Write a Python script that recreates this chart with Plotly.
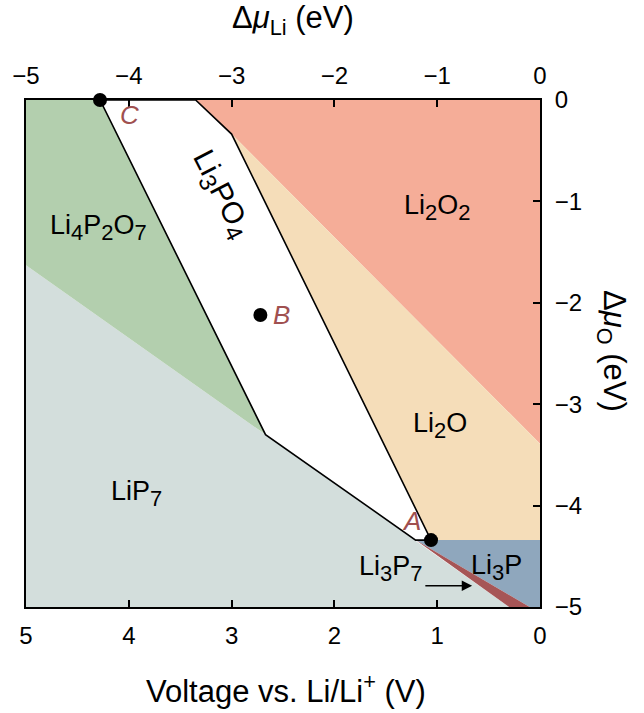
import plotly.graph_objects as go

# ---- data (Δμ_Li, Δμ_O) ----
lip7_x = [-5.0, -0.30, -5.0]
lip7_y = [-1.63, -5.0, -5.0]
li4p2o7_x = [-5.0, -4.28, -2.67, -5.0]
li4p2o7_y = [0.0, 0.0, -3.30, -1.63]
li2o2_x = [-3.35, 0.0, 0.0, -3.0]
li2o2_y = [0.0, 0.0, -3.39, -0.336]
li2o_x = [-3.0, 0.0, 0.0, -1.06]
li2o_y = [-0.336, -3.39, -4.34, -4.34]
li3p_x = [-1.21, 0.0, 0.0, -0.10]
li3p_y = [-4.34, -4.34, -5.0, -5.0]
li3p7_x = [-1.21, -0.10, -0.30]
li3p7_y = [-4.34, -5.0, -5.0]
li3po4_x = [-4.28, -3.35, -3.0, -1.06, -1.21, -2.67, -4.28]
li3po4_y = [0.0, 0.0, -0.336, -4.34, -4.34, -3.30, 0.0]

pt_names = ["A", "B", "C"]
pt_x = [-1.06, -2.72, -4.28]
pt_y = [-4.34, -2.12, 0.0]

mu_li_ticks = [-5, -4, -3, -2, -1, 0]
volt_labels = ["5", "4", "3", "2", "1", "0"]
mu_li_labels = ["\u22125", "\u22124", "\u22123", "\u22122", "\u22121", "0"]
mu_o_ticks = [0, -1, -2, -3, -4, -5]
mu_o_labels = ["0", "\u22121", "\u22122", "\u22123", "\u22124", "\u22125"]

FONT = "Liberation Sans, Arial, Helvetica, sans-serif"

fig = go.Figure()

def region(xs, ys, color, line=None):
    fig.add_trace(go.Scatter(
        x=xs, y=ys, fill="toself", fillcolor=color, mode="lines",
        line=dict(width=0, color=color) if line is None else line,
        hoverinfo="skip", showlegend=False))

region(lip7_x, lip7_y, "#d3dedc")
region(li4p2o7_x, li4p2o7_y, "#b3cfae")
region(li2o2_x, li2o2_y, "#f5ad98")
region(li2o_x, li2o_y, "#f5ddb9")
region(li3p_x, li3p_y, "#8fa7bd")
region(li3p7_x, li3p7_y, "#a65556")
region(li3po4_x, li3po4_y, "#ffffff", line=dict(width=1.6, color="black"))

fig.add_trace(go.Scatter(x=pt_x, y=pt_y, mode="markers",
                         marker=dict(size=14, color="black"),
                         cliponaxis=False, hoverinfo="skip", showlegend=False))
# invisible trace to activate top axis
fig.add_trace(go.Scatter(x=[-5, 0], y=[0, 0], xaxis="x2", mode="markers",
                         marker=dict(opacity=0), hoverinfo="skip", showlegend=False))

def s(n, size=22):
    return "<sub><span style='font-size:%dpx'>%s</span></sub>" % (size, n)

ann = []
def label(x, y, text, size=27, angle=0, color="black"):
    ann.append(dict(x=x, y=y, xref="x", yref="y", text=text, showarrow=False,
                    textangle=angle, font=dict(family=FONT, size=size, color=color)))

label(-1.0, -1.06, "Li" + s(2) + "O" + s(2))
label(-4.29, -1.26, "Li" + s(4) + "P" + s(2) + "O" + s(7))
label(-3.11, -0.93, "Li" + s(3, 24) + "PO" + s(4, 24), size=30, angle=63)
label(-0.97, -3.21, "Li" + s(2) + "O")
label(-3.93, -3.88, "LiP" + s(7))
label(-1.45, -4.62, "Li" + s(3) + "P" + s(7))
label(-0.42, -4.61, "Li" + s(3) + "P")
red = "#a05050"
label(-1.25, -4.15, "<i>A</i>", size=26, color=red)
label(-2.51, -2.12, "<i>B</i>", size=26, color=red)
label(-3.99, -0.15, "<i>C</i>", size=26, color=red)

ann.append(dict(x=-0.66, y=-4.79, ax=-1.13, ay=-4.79, xref="x", yref="y",
                axref="x", ayref="y", showarrow=True, arrowhead=2,
                arrowsize=1.3, arrowwidth=1.6, arrowcolor="black", text=""))

# axis titles
ann.append(dict(x=0.52, y=1.0, xref="paper", yref="paper", yshift=80, yanchor="middle",
                text="\u0394<i>\u03bc</i><sub>Li</sub> (eV)", showarrow=False,
                font=dict(family=FONT, size=31, color="black")))
ann.append(dict(x=0.505, y=0.0, xref="paper", yref="paper", yshift=-82, yanchor="middle",
                text="Voltage vs. Li/Li<sup>+</sup> (V)", showarrow=False,
                font=dict(family=FONT, size=31, color="black")))
ann.append(dict(x=1.0, y=0.505, xref="paper", yref="paper", xshift=72, xanchor="center",
                text="\u0394<i>\u03bc</i><sub>O</sub> (eV)", showarrow=False,
                textangle=90, font=dict(family=FONT, size=31, color="black")))

axis_common = dict(showgrid=False, zeroline=False, showline=True, linecolor="black",
                   linewidth=2, ticks="inside", ticklen=7, tickwidth=1.6,
                   tickcolor="black", tickfont=dict(family=FONT, size=24, color="black"))

fig.update_layout(
    width=644, height=713,
    margin=dict(l=22, r=104, t=100, b=106),
    paper_bgcolor="white", plot_bgcolor="white",
    xaxis=dict(range=[-5, 0], tickvals=mu_li_ticks, ticktext=volt_labels,
               ticklabelstandoff=6, **axis_common),
    xaxis2=dict(range=[-5, 0], overlaying="x", side="top", tickvals=mu_li_ticks,
                ticktext=mu_li_labels, ticklabelstandoff=4, **axis_common),
    yaxis=dict(range=[-5, 0], side="right", tickvals=mu_o_ticks, ticktext=mu_o_labels,
               mirror=True, ticklabelstandoff=8, **axis_common),
    annotations=ann,
)

fig.write_html("out.html")
